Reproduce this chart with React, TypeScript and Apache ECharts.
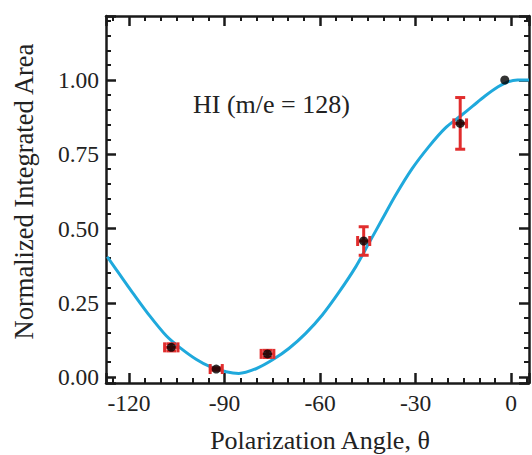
import React, { useEffect, useRef } from "react";
import * as echarts from "echarts";

// Measured points: polarization angle (deg) and normalized integrated area
const angles = [-106.7, -92.6, -76.5, -46.3, -16.0, -2.0];
const areas = [0.1, 0.027, 0.078, 0.458, 0.854, 1.0];
const angleErr = [2.1, 1.9, 2.0, 1.9, 2.0, 0];
const areaErr = [0.012, 0.004, 0.012, 0.048, 0.087, 0];

// Fitted curve
const fitAngles = [
  -126.8, -122.8, -118.7, -113.4, -108.2, -104.1, -98.8, -94.7, -89.5, -85.5,
  -80.1, -74.9, -69.7, -64.5, -59.3, -54.1, -48.8, -44.7, -40.5, -36.3, -31.2,
  -25.9, -20.7, -16.0, -12.0, -8.2, -4.1, -1.0, 2.0, 5.6,
];
const fitAreas = [
  0.405, 0.344, 0.282, 0.205, 0.138, 0.1, 0.059, 0.036, 0.018, 0.012, 0.028,
  0.058, 0.097, 0.147, 0.209, 0.285, 0.371, 0.45, 0.531, 0.612, 0.7, 0.775,
  0.838, 0.878, 0.913, 0.946, 0.977, 0.994, 1.0, 1.0,
];

const xTicks = ["-120", "-90", "-60", "-30", "0"];
const yTicks = ["0.00", "0.25", "0.50", "0.75", "1.00"];

const X_MIN = -127.2;
const X_MAX = 5.6;
const Y_MIN = -0.02;
const Y_MAX = 1.2155;

const FONT = "Liberation Serif, Times New Roman, serif";
const INK = "#1a1a1a";

export default function App() {
  const ref = useRef<HTMLDivElement>(null);

  useEffect(() => {
    if (!ref.current) return;
    const chart = echarts.init(ref.current, undefined, { renderer: "svg" });

    const fmtX = (v: number) => {
      const s = String(Math.round(v));
      return Math.abs(v - Math.round(v)) < 1e-6 && xTicks.includes(s) ? s : "";
    };
    const fmtY = (v: number) => {
      const s = v.toFixed(2);
      return Math.abs(v - Number(s)) < 1e-6 && yTicks.includes(s) ? s : "";
    };

    const axisLine = { show: true, onZero: false, lineStyle: { color: INK, width: 2.5 } };
    const axisTick = { show: true, inside: true, length: 10, lineStyle: { color: INK, width: 2.5 } };
    const minorX = { show: true, splitNumber: 6, length: 5, lineStyle: { color: INK, width: 2 } };
    const minorY = { show: true, splitNumber: 5, length: 5, lineStyle: { color: INK, width: 2 } };

    const xBase = {
      type: "value" as const,
      min: X_MIN,
      max: X_MAX,
      splitNumber: 5,
      minInterval: 30,
      maxInterval: 30,
      axisLine,
      axisTick,
      minorTick: minorX,
      splitLine: { show: false },
      minorSplitLine: { show: false },
    };
    const yBase = {
      type: "value" as const,
      min: Y_MIN,
      max: Y_MAX,
      splitNumber: 5,
      minInterval: 0.25,
      maxInterval: 0.25,
      axisLine,
      axisTick,
      minorTick: minorY,
      splitLine: { show: false },
      minorSplitLine: { show: false },
    };

    const points = angles.map((a, i) => [a, areas[i]]);
    const bars = angles.map((a, i) => [a, areas[i], angleErr[i], areaErr[i]]);
    const curve = fitAngles.map((a, i) => [a, fitAreas[i]]);

    chart.setOption({
      animation: false,
      backgroundColor: "#ffffff",
      grid: { left: 106, top: 16, right: 1, bottom: 72 },
      xAxis: [
        {
          ...xBase,
          position: "bottom",
          axisLabel: {
            show: true,
            margin: 8,
            color: "#222",
            fontFamily: FONT,
            fontSize: 23.5,
            formatter: fmtX,
          },
        },
        { ...xBase, position: "top", axisLabel: { show: false } },
      ],
      yAxis: [
        {
          ...yBase,
          position: "left",
          axisLabel: {
            show: true,
            margin: 7,
            color: "#222",
            fontFamily: FONT,
            fontSize: 23.5,
            formatter: fmtY,
          },
        },
        { ...yBase, position: "right", axisLabel: { show: false } },
      ],
      graphic: [
        {
          type: "text",
          x: 193,
          y: 104,
          style: {
            text: "HI (m/e = 128)",
            fill: "#222",
            font: `26px ${FONT}`,
            align: "left",
            verticalAlign: "middle",
          },
        },
        {
          type: "text",
          x: 320,
          y: 440,
          style: {
            text: "Polarization Angle, θ",
            fill: "#222",
            font: `26px ${FONT}`,
            align: "center",
            verticalAlign: "middle",
          },
        },
        {
          type: "text",
          x: 24,
          y: 191.5,
          rotation: Math.PI / 2,
          style: {
            text: "Normalized Integrated Area",
            fill: "#222",
            font: `26.5px ${FONT}`,
            align: "center",
            verticalAlign: "middle",
          },
        },
      ],
      series: [
        {
          type: "line",
          data: curve,
          smooth: 0.3,
          showSymbol: false,
          lineStyle: { color: "#1fa9dc", width: 3 },
          z: 2,
        },
        {
          type: "custom",
          data: bars,
          encode: { x: 0, y: 1 },
          z: 3,
          renderItem: (_params: any, api: any) => {
            const x = api.value(0);
            const y = api.value(1);
            const xe = api.value(2);
            const ye = api.value(3);
            const style = { stroke: "#e12d2d", lineWidth: 3 };
            const cap = 5;
            const children: any[] = [];
            if (xe > 0) {
              const l = api.coord([x - xe, y]);
              const r = api.coord([x + xe, y]);
              children.push(
                { type: "line", shape: { x1: l[0], y1: l[1], x2: r[0], y2: r[1] }, style },
                { type: "line", shape: { x1: l[0], y1: l[1] - cap, x2: l[0], y2: l[1] + cap }, style },
                { type: "line", shape: { x1: r[0], y1: r[1] - cap, x2: r[0], y2: r[1] + cap }, style }
              );
            }
            if (ye > 0) {
              const t = api.coord([x, y + ye]);
              const b = api.coord([x, y - ye]);
              children.push(
                { type: "line", shape: { x1: t[0], y1: t[1], x2: b[0], y2: b[1] }, style },
                { type: "line", shape: { x1: t[0] - cap, y1: t[1], x2: t[0] + cap, y2: t[1] }, style },
                { type: "line", shape: { x1: b[0] - cap, y1: b[1], x2: b[0] + cap, y2: b[1] }, style }
              );
            }
            return { type: "group", children };
          },
        },
        {
          type: "scatter",
          data: points,
          symbol: "circle",
          symbolSize: 9,
          itemStyle: { color: "#000000" },
          z: 4,
        },
      ],
    });

    return () => chart.dispose();
  }, []);

  return (
    <div
      ref={ref}
      style={{ position: "fixed", left: 0, top: 0, width: 532, height: 455 }}
    />
  );
}
